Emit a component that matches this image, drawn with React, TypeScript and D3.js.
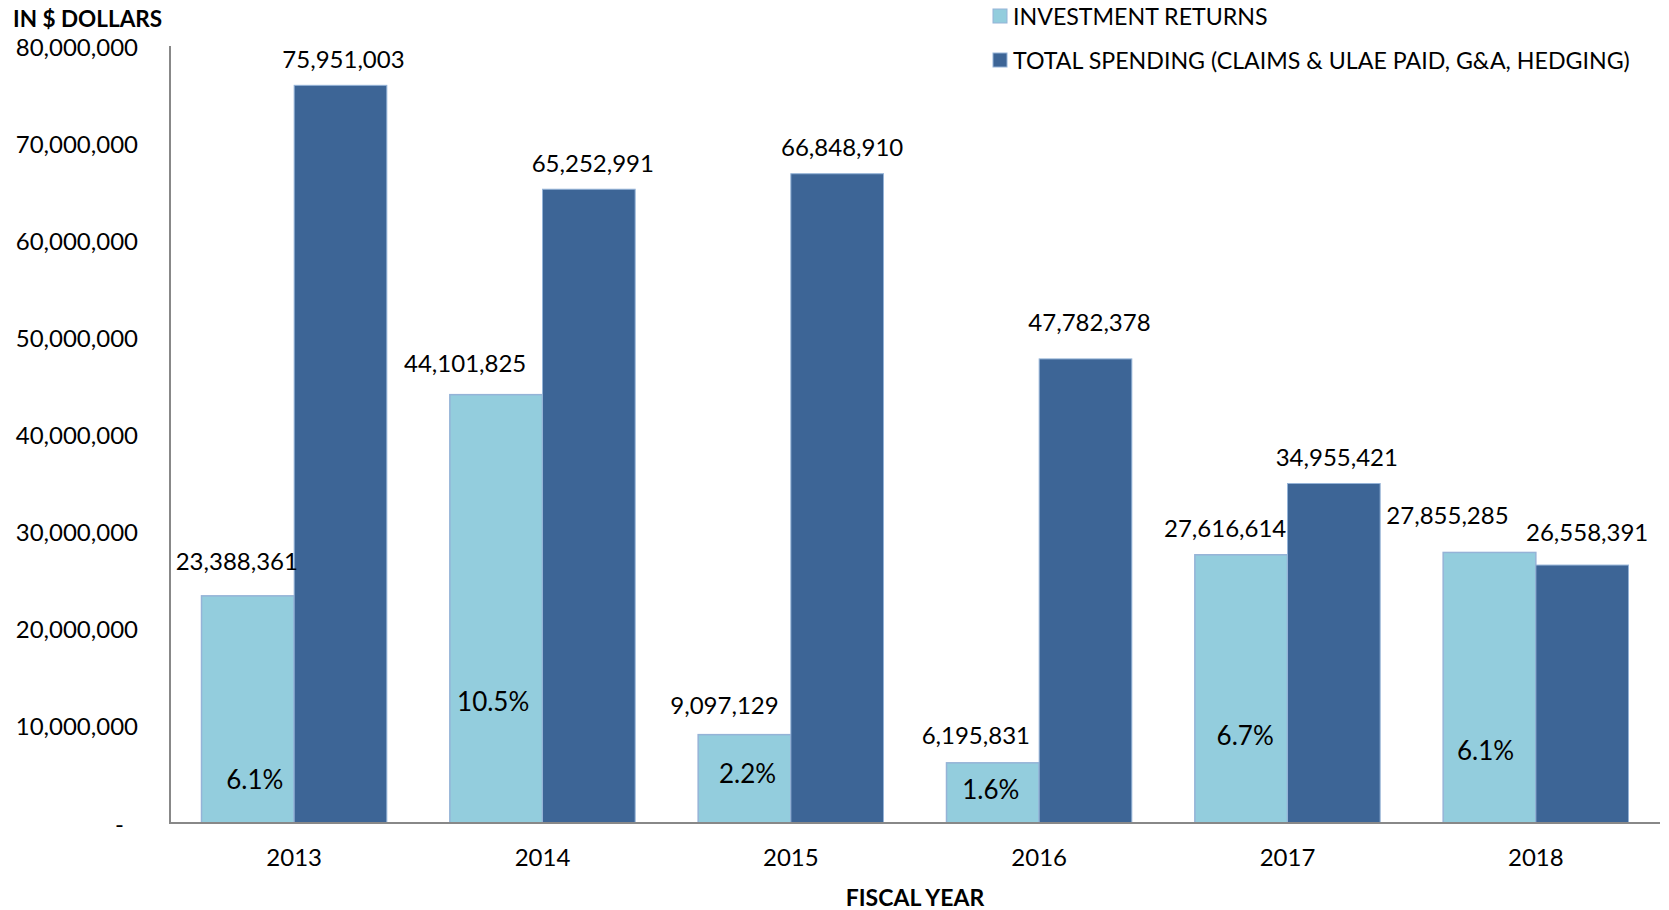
import React, { useEffect, useRef } from 'react';
import * as d3 from 'd3';

const years = ['2013', '2014', '2015', '2016', '2017', '2018'];
const investmentReturns = [23388361, 44101825, 9097129, 6195831, 27616614, 27855285];
const totalSpending = [75951003, 65252991, 66848910, 47782378, 34955421, 26558391];
const returnRates = ['6.1%', '10.5%', '2.2%', '1.6%', '6.7%', '6.1%'];
const yTicks = [0, 10000000, 20000000, 30000000, 40000000, 50000000, 60000000, 70000000, 80000000];
const seriesNames = ['INVESTMENT RETURNS', 'TOTAL SPENDING (CLAIMS & ULAE PAID, G&A, HEDGING)'];

// hand nudges of the value labels, like the dragged labels in the original
const lightLabelShift = [[-11, 35], [-31, 32], [-20, 30], [-17, 28], [-16, 27], [-42, 38]];
const darkLabelShift = [[3, 27], [4, 27], [5, 27], [4, 37], [3, 27], [5, 34]];
const pctLabelY = [779, 701, 773, 789, 735, 750];
const pctLabelShift = [7, -3, 3, -2, 4, -4];

const LIGHT = '#93CDDD';
const DARK = '#3D6596';
const EDGE = '#95B3D7';
const FONT = 'Lato, sans-serif';

export default function App() {
  const ref = useRef<SVGSVGElement>(null);

  useEffect(() => {
    document.body.style.margin = '0';
    const width = 1669;
    const height = 910;
    const left = 170;
    const right = 1660;
    const top = 46;
    const bottom = 823;

    const svg = d3.select(ref.current).attr('width', width).attr('height', height);
    svg.selectAll('*').remove();

    const x = d3.scaleBand().domain(years).range([left, right]).padding(0);
    const x1 = d3.scaleBand().domain(['r', 's']).range([0, x.bandwidth()]).paddingInner(0).paddingOuter(0.34);
    const y = d3.scaleLinear().domain([0, 80000000]).range([bottom, top]);
    const fmt = d3.format(',');

    const g = svg.append('g');

    // bars
    years.forEach((yr, i) => {
      const gx = x(yr) as number;
      g.append('rect')
        .attr('x', gx + (x1('r') as number))
        .attr('y', y(investmentReturns[i]))
        .attr('width', x1.bandwidth())
        .attr('height', bottom - y(investmentReturns[i]))
        .attr('fill', LIGHT)
        .attr('stroke', EDGE)
        .attr('stroke-width', 1.5);
      g.append('rect')
        .attr('x', gx + (x1('s') as number))
        .attr('y', y(totalSpending[i]))
        .attr('width', x1.bandwidth())
        .attr('height', bottom - y(totalSpending[i]))
        .attr('fill', DARK)
        .attr('stroke', EDGE)
        .attr('stroke-width', 1);
    });

    // value labels
    years.forEach((yr, i) => {
      const gx = x(yr) as number;
      const cr = gx + (x1('r') as number) + x1.bandwidth() / 2;
      const cs = gx + (x1('s') as number) + x1.bandwidth() / 2;
      g.append('text')
        .attr('x', cr + lightLabelShift[i][0])
        .attr('y', y(investmentReturns[i]) - lightLabelShift[i][1])
        .attr('text-anchor', 'middle')
        .attr('dominant-baseline', 'central')
        .attr('font-family', FONT)
        .attr('font-size', 24)
        .attr('fill', '#000')
        .text(fmt(investmentReturns[i]));
      g.append('text')
        .attr('x', cs + darkLabelShift[i][0])
        .attr('y', y(totalSpending[i]) - darkLabelShift[i][1])
        .attr('text-anchor', 'middle')
        .attr('dominant-baseline', 'central')
        .attr('font-family', FONT)
        .attr('font-size', 24)
        .attr('fill', '#000')
        .text(fmt(totalSpending[i]));
      g.append('text')
        .attr('x', cr + pctLabelShift[i])
        .attr('y', pctLabelY[i])
        .attr('text-anchor', 'middle')
        .attr('dominant-baseline', 'central')
        .attr('font-family', FONT)
        .attr('font-size', 26)
        .attr('fill', '#000')
        .text(returnRates[i]);
    });

    // axes
    g.append('line')
      .attr('x1', left).attr('x2', left).attr('y1', top).attr('y2', bottom)
      .attr('stroke', '#888').attr('stroke-width', 2);
    g.append('line')
      .attr('x1', left - 1).attr('x2', right).attr('y1', bottom).attr('y2', bottom)
      .attr('stroke', '#888').attr('stroke-width', 2);

    g.selectAll('.ytick')
      .data(yTicks)
      .join('text')
      .attr('x', (d) => (d === 0 ? 124 : 138))
      .attr('y', (d) => y(d))
      .attr('text-anchor', 'end')
      .attr('dominant-baseline', 'central')
      .attr('font-family', FONT)
      .attr('font-size', 24)
      .text((d) => (d === 0 ? '-' : fmt(d)));

    g.selectAll('.xtick')
      .data(years)
      .join('text')
      .attr('x', (d) => (x(d) as number) + x.bandwidth() / 2)
      .attr('y', 856)
      .attr('text-anchor', 'middle')
      .attr('dominant-baseline', 'central')
      .attr('font-family', FONT)
      .attr('font-size', 24)
      .text((d) => d);

    g.append('text')
      .attr('x', (left + right) / 2)
      .attr('y', 897)
      .attr('text-anchor', 'middle')
      .attr('dominant-baseline', 'central')
      .attr('font-family', FONT)
      .attr('font-weight', 'bold')
      .attr('font-size', 23)
      .text('FISCAL YEAR');

    g.append('text')
      .attr('x', 13)
      .attr('y', 18)
      .attr('dominant-baseline', 'central')
      .attr('font-family', FONT)
      .attr('font-weight', 'bold')
      .attr('font-size', 22.5)
      .text('IN $ DOLLARS');

    // legend
    const legend = g.append('g');
    seriesNames.forEach((name, i) => {
      const ly = 16 + i * 44;
      legend.append('rect')
        .attr('x', 993).attr('y', ly - 7).attr('width', 14).attr('height', 14)
        .attr('fill', i === 0 ? LIGHT : DARK)
        .attr('stroke', EDGE).attr('stroke-width', 1);
      legend.append('text')
        .attr('x', 1013).attr('y', ly)
        .attr('dominant-baseline', 'central')
        .attr('font-family', FONT)
        .attr('font-size', 23.2)
        .text(name);
    });
  }, []);

  return <svg ref={ref} style={{ display: 'block' }} />;
}
